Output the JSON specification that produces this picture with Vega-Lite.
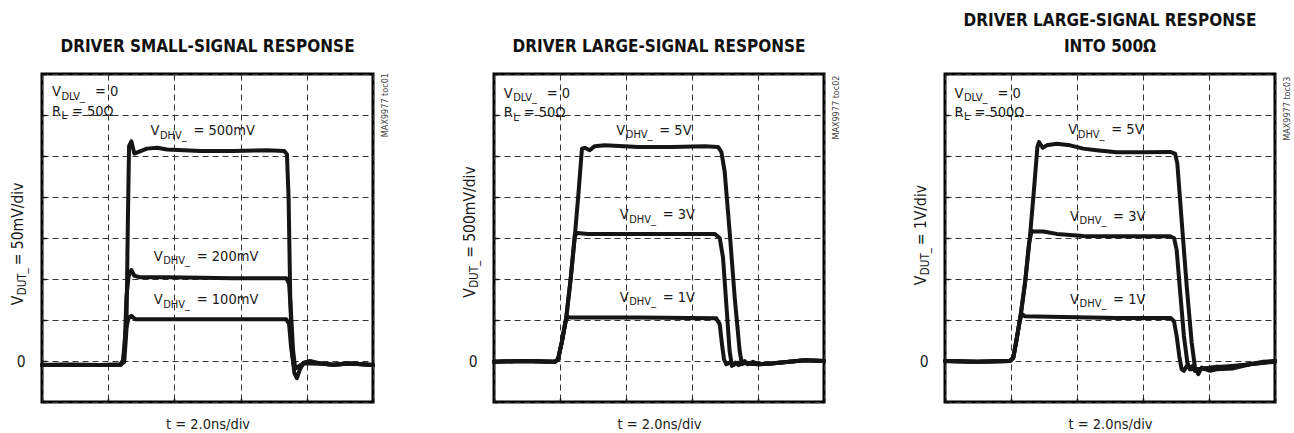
{
  "$schema": "https://vega.github.io/schema/vega-lite/v6.json",
  "background": "white",
  "padding": {"left": 9, "top": 10, "right": 0, "bottom": 0},
  "bounds": "flush",
  "spacing": 121,
  "datasets": {
    "traces": [
      {"panel":1,"series":"500mV","t":0,"v":-5},{"panel":1,"series":"500mV","t":1.5,"v":-4.5},{"panel":1,"series":"500mV","t":3.5,"v":-5},{"panel":1,"series":"500mV","t":4.73,"v":-4.5},{"panel":1,"series":"500mV","t":4.97,"v":-1.2},{"panel":1,"series":"500mV","t":5.1,"v":37},{"panel":1,"series":"500mV","t":5.18,"v":159},{"panel":1,"series":"500mV","t":5.26,"v":262},{"panel":1,"series":"500mV","t":5.4,"v":268},{"panel":1,"series":"500mV","t":5.58,"v":253},{"panel":1,"series":"500mV","t":5.84,"v":255},{"panel":1,"series":"500mV","t":6.34,"v":259},{"panel":1,"series":"500mV","t":6.95,"v":260},{"panel":1,"series":"500mV","t":7.55,"v":258},{"panel":1,"series":"500mV","t":9.57,"v":256},{"panel":1,"series":"500mV","t":11.58,"v":256},{"panel":1,"series":"500mV","t":13.6,"v":257},{"panel":1,"series":"500mV","t":14.64,"v":256},{"panel":1,"series":"500mV","t":14.8,"v":252},{"panel":1,"series":"500mV","t":14.9,"v":199},{"panel":1,"series":"500mV","t":15.0,"v":78},{"panel":1,"series":"500mV","t":15.1,"v":13},{"panel":1,"series":"500mV","t":15.25,"v":-15},{"panel":1,"series":"500mV","t":15.4,"v":-21},{"panel":1,"series":"500mV","t":15.57,"v":-11},{"panel":1,"series":"500mV","t":15.81,"v":-2},{"panel":1,"series":"500mV","t":16.2,"v":0},{"panel":1,"series":"500mV","t":16.8,"v":-3},{"panel":1,"series":"500mV","t":17.6,"v":-4.5},{"panel":1,"series":"500mV","t":18.6,"v":-3},{"panel":1,"series":"500mV","t":20,"v":-5},
      {"panel":1,"series":"200mV","t":0,"v":-5},{"panel":1,"series":"200mV","t":1.5,"v":-4.5},{"panel":1,"series":"200mV","t":3.5,"v":-5},{"panel":1,"series":"200mV","t":4.78,"v":-4.5},{"panel":1,"series":"200mV","t":4.9,"v":-1},{"panel":1,"series":"200mV","t":5.0,"v":17},{"panel":1,"series":"200mV","t":5.1,"v":78},{"panel":1,"series":"200mV","t":5.24,"v":104},{"panel":1,"series":"200mV","t":5.4,"v":111},{"panel":1,"series":"200mV","t":5.58,"v":104},{"panel":1,"series":"200mV","t":5.94,"v":102},{"panel":1,"series":"200mV","t":7.55,"v":102},{"panel":1,"series":"200mV","t":11.58,"v":101},{"panel":1,"series":"200mV","t":14.76,"v":101},{"panel":1,"series":"200mV","t":14.93,"v":94},{"panel":1,"series":"200mV","t":15.05,"v":57},{"panel":1,"series":"200mV","t":15.17,"v":13},{"panel":1,"series":"200mV","t":15.3,"v":-9},{"panel":1,"series":"200mV","t":15.5,"v":-7},{"panel":1,"series":"200mV","t":15.9,"v":-2},{"panel":1,"series":"200mV","t":16.8,"v":-3},{"panel":1,"series":"200mV","t":17.6,"v":-4.5},{"panel":1,"series":"200mV","t":18.6,"v":-3},{"panel":1,"series":"200mV","t":20,"v":-5},
      {"panel":1,"series":"100mV","t":0,"v":-5},{"panel":1,"series":"100mV","t":1.5,"v":-4.5},{"panel":1,"series":"100mV","t":3.5,"v":-5},{"panel":1,"series":"100mV","t":4.73,"v":-4},{"panel":1,"series":"100mV","t":4.9,"v":1},{"panel":1,"series":"100mV","t":5.05,"v":37},{"panel":1,"series":"100mV","t":5.24,"v":53},{"panel":1,"series":"100mV","t":5.4,"v":55},{"panel":1,"series":"100mV","t":5.64,"v":51},{"panel":1,"series":"100mV","t":7.55,"v":51},{"panel":1,"series":"100mV","t":14.76,"v":51},{"panel":1,"series":"100mV","t":14.93,"v":45},{"panel":1,"series":"100mV","t":15.05,"v":17},{"panel":1,"series":"100mV","t":15.2,"v":-5},{"panel":1,"series":"100mV","t":15.4,"v":-8},{"panel":1,"series":"100mV","t":15.8,"v":-3},{"panel":1,"series":"100mV","t":16.8,"v":-3},{"panel":1,"series":"100mV","t":17.6,"v":-4.5},{"panel":1,"series":"100mV","t":18.6,"v":-3},{"panel":1,"series":"100mV","t":20,"v":-5},
      {"panel":2,"series":"5V","t":0,"v":-0.01},{"panel":2,"series":"5V","t":1.66,"v":0},{"panel":2,"series":"5V","t":3.68,"v":-0.01},{"panel":2,"series":"5V","t":3.88,"v":0.02},{"panel":2,"series":"5V","t":4.12,"v":0.24},{"panel":2,"series":"5V","t":4.38,"v":0.53},{"panel":2,"series":"5V","t":4.65,"v":1.01},{"panel":2,"series":"5V","t":4.89,"v":1.5},{"panel":2,"series":"5V","t":5.13,"v":2.07},{"panel":2,"series":"5V","t":5.33,"v":2.59},{"panel":2,"series":"5V","t":5.5,"v":2.6},{"panel":2,"series":"5V","t":5.8,"v":2.57},{"panel":2,"series":"5V","t":6.1,"v":2.62},{"panel":2,"series":"5V","t":6.71,"v":2.63},{"panel":2,"series":"5V","t":8.73,"v":2.61},{"panel":2,"series":"5V","t":10.75,"v":2.61},{"panel":2,"series":"5V","t":12.77,"v":2.62},{"panel":2,"series":"5V","t":13.58,"v":2.61},{"panel":2,"series":"5V","t":13.78,"v":2.55},{"panel":2,"series":"5V","t":13.98,"v":2.31},{"panel":2,"series":"5V","t":14.28,"v":1.58},{"panel":2,"series":"5V","t":14.59,"v":0.77},{"panel":2,"series":"5V","t":14.89,"v":0.12},{"panel":2,"series":"5V","t":15.03,"v":-0.04},{"panel":2,"series":"5V","t":15.19,"v":0},{"panel":2,"series":"5V","t":15.39,"v":-0.04},{"panel":2,"series":"5V","t":15.7,"v":-0.01},{"panel":2,"series":"5V","t":16.0,"v":-0.04},{"panel":2,"series":"5V","t":16.8,"v":-0.03},{"panel":2,"series":"5V","t":18.83,"v":0.01},{"panel":2,"series":"5V","t":20,"v":0},
      {"panel":2,"series":"3V","t":0,"v":-0.01},{"panel":2,"series":"3V","t":1.66,"v":0},{"panel":2,"series":"3V","t":3.68,"v":-0.01},{"panel":2,"series":"3V","t":3.88,"v":0.02},{"panel":2,"series":"3V","t":4.12,"v":0.24},{"panel":2,"series":"3V","t":4.38,"v":0.53},{"panel":2,"series":"3V","t":4.65,"v":1.01},{"panel":2,"series":"3V","t":4.89,"v":1.52},{"panel":2,"series":"3V","t":5.05,"v":1.56},{"panel":2,"series":"3V","t":5.7,"v":1.55},{"panel":2,"series":"3V","t":8.73,"v":1.55},{"panel":2,"series":"3V","t":13.37,"v":1.55},{"panel":2,"series":"3V","t":13.68,"v":1.5},{"panel":2,"series":"3V","t":13.88,"v":1.26},{"panel":2,"series":"3V","t":14.08,"v":0.69},{"panel":2,"series":"3V","t":14.28,"v":0.12},{"panel":2,"series":"3V","t":14.42,"v":-0.06},{"panel":2,"series":"3V","t":14.63,"v":-0.02},{"panel":2,"series":"3V","t":14.83,"v":-0.05},{"panel":2,"series":"3V","t":15.09,"v":-0.02},{"panel":2,"series":"3V","t":16.0,"v":-0.04},{"panel":2,"series":"3V","t":16.8,"v":-0.03},{"panel":2,"series":"3V","t":18.83,"v":0.01},{"panel":2,"series":"3V","t":20,"v":0},
      {"panel":2,"series":"1V","t":0,"v":-0.01},{"panel":2,"series":"1V","t":1.66,"v":0},{"panel":2,"series":"1V","t":3.68,"v":-0.01},{"panel":2,"series":"1V","t":3.88,"v":0.02},{"panel":2,"series":"1V","t":4.12,"v":0.24},{"panel":2,"series":"1V","t":4.32,"v":0.47},{"panel":2,"series":"1V","t":4.48,"v":0.535},{"panel":2,"series":"1V","t":4.69,"v":0.53},{"panel":2,"series":"1V","t":8.73,"v":0.53},{"panel":2,"series":"1V","t":13.47,"v":0.52},{"panel":2,"series":"1V","t":13.68,"v":0.45},{"panel":2,"series":"1V","t":13.82,"v":0.2},{"panel":2,"series":"1V","t":13.94,"v":0.02},{"panel":2,"series":"1V","t":14.08,"v":-0.04},{"panel":2,"series":"1V","t":14.28,"v":-0.02},{"panel":2,"series":"1V","t":14.48,"v":-0.05},{"panel":2,"series":"1V","t":14.79,"v":-0.02},{"panel":2,"series":"1V","t":16.0,"v":-0.04},{"panel":2,"series":"1V","t":16.8,"v":-0.03},{"panel":2,"series":"1V","t":18.83,"v":0.01},{"panel":2,"series":"1V","t":20,"v":0},
      {"panel":3,"series":"5V","t":0,"v":0},{"panel":3,"series":"5V","t":1.92,"v":-0.02},{"panel":3,"series":"5V","t":3.94,"v":0},{"panel":3,"series":"5V","t":4.14,"v":0.08},{"panel":3,"series":"5V","t":4.34,"v":0.53},{"panel":3,"series":"5V","t":4.59,"v":1.13},{"panel":3,"series":"5V","t":4.85,"v":1.9},{"panel":3,"series":"5V","t":5.15,"v":3.04},{"panel":3,"series":"5V","t":5.39,"v":4.17},{"panel":3,"series":"5V","t":5.6,"v":5.22},{"panel":3,"series":"5V","t":5.7,"v":5.34},{"panel":3,"series":"5V","t":5.92,"v":5.2},{"panel":3,"series":"5V","t":6.16,"v":5.26},{"panel":3,"series":"5V","t":6.77,"v":5.3},{"panel":3,"series":"5V","t":7.58,"v":5.26},{"panel":3,"series":"5V","t":8.38,"v":5.18},{"panel":3,"series":"5V","t":9.19,"v":5.14},{"panel":3,"series":"5V","t":10.4,"v":5.09},{"panel":3,"series":"5V","t":12.02,"v":5.09},{"panel":3,"series":"5V","t":13.64,"v":5.1},{"panel":3,"series":"5V","t":13.94,"v":5.06},{"panel":3,"series":"5V","t":14.08,"v":4.82},{"panel":3,"series":"5V","t":14.34,"v":3.44},{"panel":3,"series":"5V","t":14.65,"v":1.82},{"panel":3,"series":"5V","t":14.95,"v":0.45},{"panel":3,"series":"5V","t":15.15,"v":-0.16},{"panel":3,"series":"5V","t":15.35,"v":-0.32},{"panel":3,"series":"5V","t":15.56,"v":-0.16},{"panel":3,"series":"5V","t":15.76,"v":-0.2},{"panel":3,"series":"5V","t":16.06,"v":-0.24},{"panel":3,"series":"5V","t":16.46,"v":-0.2},{"panel":3,"series":"5V","t":17.47,"v":-0.18},{"panel":3,"series":"5V","t":18.48,"v":-0.08},{"panel":3,"series":"5V","t":19.29,"v":-0.02},{"panel":3,"series":"5V","t":20,"v":0},
      {"panel":3,"series":"3V","t":0,"v":0},{"panel":3,"series":"3V","t":1.92,"v":-0.02},{"panel":3,"series":"3V","t":3.94,"v":0},{"panel":3,"series":"3V","t":4.14,"v":0.08},{"panel":3,"series":"3V","t":4.34,"v":0.53},{"panel":3,"series":"3V","t":4.59,"v":1.13},{"panel":3,"series":"3V","t":4.85,"v":1.9},{"panel":3,"series":"3V","t":5.09,"v":2.87},{"panel":3,"series":"3V","t":5.25,"v":3.17},{"panel":3,"series":"3V","t":5.39,"v":3.16},{"panel":3,"series":"3V","t":5.96,"v":3.16},{"panel":3,"series":"3V","t":6.77,"v":3.1},{"panel":3,"series":"3V","t":8.38,"v":3.05},{"panel":3,"series":"3V","t":10.4,"v":3.04},{"panel":3,"series":"3V","t":13.64,"v":3.04},{"panel":3,"series":"3V","t":13.88,"v":3.0},{"panel":3,"series":"3V","t":14.04,"v":2.71},{"panel":3,"series":"3V","t":14.24,"v":1.74},{"panel":3,"series":"3V","t":14.48,"v":0.61},{"panel":3,"series":"3V","t":14.69,"v":-0.04},{"panel":3,"series":"3V","t":14.85,"v":-0.2},{"panel":3,"series":"3V","t":15.01,"v":-0.12},{"panel":3,"series":"3V","t":15.15,"v":-0.24},{"panel":3,"series":"3V","t":15.45,"v":-0.2},{"panel":3,"series":"3V","t":16.46,"v":-0.14},{"panel":3,"series":"3V","t":17.47,"v":-0.14},{"panel":3,"series":"3V","t":18.48,"v":-0.08},{"panel":3,"series":"3V","t":20,"v":-0.02},
      {"panel":3,"series":"1V","t":0,"v":0},{"panel":3,"series":"1V","t":1.92,"v":-0.02},{"panel":3,"series":"1V","t":3.94,"v":0},{"panel":3,"series":"1V","t":4.14,"v":0.08},{"panel":3,"series":"1V","t":4.34,"v":0.53},{"panel":3,"series":"1V","t":4.51,"v":0.93},{"panel":3,"series":"1V","t":4.65,"v":1.15},{"panel":3,"series":"1V","t":4.85,"v":1.09},{"panel":3,"series":"1V","t":6.36,"v":1.08},{"panel":3,"series":"1V","t":10.4,"v":1.05},{"panel":3,"series":"1V","t":13.68,"v":1.05},{"panel":3,"series":"1V","t":13.88,"v":0.97},{"panel":3,"series":"1V","t":14.04,"v":0.61},{"panel":3,"series":"1V","t":14.2,"v":0.12},{"panel":3,"series":"1V","t":14.34,"v":-0.2},{"panel":3,"series":"1V","t":14.48,"v":-0.24},{"panel":3,"series":"1V","t":14.65,"v":-0.12},{"panel":3,"series":"1V","t":14.85,"v":-0.2},{"panel":3,"series":"1V","t":15.45,"v":-0.19},{"panel":3,"series":"1V","t":16.46,"v":-0.16},{"panel":3,"series":"1V","t":18.48,"v":-0.08},{"panel":3,"series":"1V","t":20,"v":0}
    ],
    "labels": [
      {"panel":1,"t":0.6,"v":328,"m":"V","s":"DLV_","r":"= 0"},
      {"panel":1,"t":0.6,"v":304,"m":"R","s":"L","r":"= 50Ω"},
      {"panel":1,"t":6.55,"v":280,"m":"V","s":"DHV_","r":"= 500mV"},
      {"panel":1,"t":6.75,"v":127,"m":"V","s":"DHV_","r":"= 200mV"},
      {"panel":1,"t":6.75,"v":74,"m":"V","s":"DHV_","r":"= 100mV"},
      {"panel":2,"t":0.59,"v":3.26,"m":"V","s":"DLV_","r":"= 0"},
      {"panel":2,"t":0.59,"v":3.02,"m":"R","s":"L","r":"= 50Ω"},
      {"panel":2,"t":7.41,"v":2.81,"m":"V","s":"DHV_","r":"= 5V"},
      {"panel":2,"t":7.62,"v":1.78,"m":"V","s":"DHV_","r":"= 3V"},
      {"panel":2,"t":7.62,"v":0.77,"m":"V","s":"DHV_","r":"= 1V"},
      {"panel":3,"t":0.57,"v":6.52,"m":"V","s":"DLV_","r":"= 0"},
      {"panel":3,"t":0.57,"v":6.05,"m":"R","s":"L","r":"= 500Ω"},
      {"panel":3,"t":7.47,"v":5.63,"m":"V","s":"DHV_","r":"= 5V"},
      {"panel":3,"t":7.58,"v":3.52,"m":"V","s":"DHV_","r":"= 3V"},
      {"panel":3,"t":7.58,"v":1.5,"m":"V","s":"DHV_","r":"= 1V"}
    ],
    "ytitle": [
      {"panel":1,"v":68,"m":"V","s":"DUT_","r":"= 50mV/div"},
      {"panel":2,"v":0.77,"m":"V","s":"DUT_","r":"= 500mV/div"},
      {"panel":3,"v":1.85,"m":"V","s":"DUT_","r":"= 1V/div"}
    ],
    "tags": [
      {"panel":1,"v":273,"text":"MAX9977 toc01"},
      {"panel":2,"v":2.7,"text":"MAX9977 toc02"},
      {"panel":3,"v":5.37,"text":"MAX9977 toc03"}
    ]
  },
  "hconcat": [
    {
      "width": 331, "height": 328,
      "title": {"text": "DRIVER SMALL-SIGNAL RESPONSE"},
      "layer": [
        {"data": {"name": "traces"}, "transform": [{"filter": "datum.panel == 1"}],
         "mark": {"type": "line", "color": "#151515", "strokeWidth": 4, "strokeJoin": "round", "strokeCap": "round"},
         "encoding": {
           "x": {"field": "t", "type": "quantitative", "scale": {"domain": [0, 20], "nice": false}, "axis": {"values": [0,2,4,6,8,10,12,14,16,18,20], "labels": false, "title": "t = 2.0ns/div"}},
           "y": {"field": "v", "type": "quantitative", "scale": {"domain": [-50, 350], "nice": false, "zero": false}, "axis": {"values": [-50,0,50,100,150,200,250,300,350], "labelExpr": "datum.value == 0 ? '0' : ''", "title": null}},
           "detail": {"field": "series", "type": "nominal"}}},
        {"data": {"name": "labels"}, "transform": [{"filter": "datum.panel == 1"}],
         "mark": {"type": "text", "align": "left", "baseline": "middle", "fontSize": 14.5},
         "encoding": {"x": {"field": "t", "type": "quantitative"}, "y": {"field": "v", "type": "quantitative"}, "text": {"field": "m"}}},
        {"data": {"name": "labels"}, "transform": [{"filter": "datum.panel == 1"}],
         "mark": {"type": "text", "align": "left", "baseline": "middle", "fontSize": 11, "dx": 9.5, "dy": 4.5},
         "encoding": {"x": {"field": "t", "type": "quantitative"}, "y": {"field": "v", "type": "quantitative"}, "text": {"field": "s"}}},
        {"data": {"name": "labels"}, "transform": [{"filter": "datum.panel == 1 && length(datum.s) > 1"}],
         "mark": {"type": "text", "align": "left", "baseline": "middle", "fontSize": 14.5, "dx": 43},
         "encoding": {"x": {"field": "t", "type": "quantitative"}, "y": {"field": "v", "type": "quantitative"}, "text": {"field": "r"}}},
        {"data": {"name": "labels"}, "transform": [{"filter": "datum.panel == 1 && length(datum.s) == 1"}],
         "mark": {"type": "text", "align": "left", "baseline": "middle", "fontSize": 14.5, "dx": 20},
         "encoding": {"x": {"field": "t", "type": "quantitative"}, "y": {"field": "v", "type": "quantitative"}, "text": {"field": "r"}}},
        {"data": {"name": "ytitle"}, "transform": [{"filter": "datum.panel == 1"}],
         "mark": {"type": "text", "align": "left", "baseline": "middle", "fontSize": 15.5, "angle": 270, "dy": -24},
         "encoding": {"x": {"datum": 0, "type": "quantitative"}, "y": {"field": "v", "type": "quantitative"}, "text": {"field": "m"}}},
        {"data": {"name": "ytitle"}, "transform": [{"filter": "datum.panel == 1"}],
         "mark": {"type": "text", "align": "left", "baseline": "middle", "fontSize": 11.5, "angle": 270, "dx": 10, "dy": -19.5},
         "encoding": {"x": {"datum": 0, "type": "quantitative"}, "y": {"field": "v", "type": "quantitative"}, "text": {"field": "s"}}},
        {"data": {"name": "ytitle"}, "transform": [{"filter": "datum.panel == 1"}],
         "mark": {"type": "text", "align": "left", "baseline": "middle", "fontSize": 15.5, "angle": 270, "dx": 40, "dy": -24},
         "encoding": {"x": {"datum": 0, "type": "quantitative"}, "y": {"field": "v", "type": "quantitative"}, "text": {"field": "r"}}},
        {"data": {"name": "tags"}, "transform": [{"filter": "datum.panel == 1"}],
         "mark": {"type": "text", "align": "left", "baseline": "middle", "fontSize": 9, "angle": 270, "dy": 12, "color": "#444"},
         "encoding": {"x": {"datum": 20, "type": "quantitative"}, "y": {"field": "v", "type": "quantitative"}, "text": {"field": "text"}}}
      ]
    },
    {
      "width": 330, "height": 328,
      "title": {"text": "DRIVER LARGE-SIGNAL RESPONSE"},
      "layer": [
        {"data": {"name": "traces"}, "transform": [{"filter": "datum.panel == 2"}],
         "mark": {"type": "line", "color": "#151515", "strokeWidth": 4, "strokeJoin": "round", "strokeCap": "round"},
         "encoding": {
           "x": {"field": "t", "type": "quantitative", "scale": {"domain": [0, 20], "nice": false}, "axis": {"values": [0,2,4,6,8,10,12,14,16,18,20], "labels": false, "title": "t = 2.0ns/div"}},
           "y": {"field": "v", "type": "quantitative", "scale": {"domain": [-0.5, 3.5], "nice": false, "zero": false}, "axis": {"values": [-0.5,0,0.5,1,1.5,2,2.5,3,3.5], "labelExpr": "datum.value == 0 ? '0' : ''", "title": null}},
           "detail": {"field": "series", "type": "nominal"}}},
        {"data": {"name": "labels"}, "transform": [{"filter": "datum.panel == 2"}],
         "mark": {"type": "text", "align": "left", "baseline": "middle", "fontSize": 14.5},
         "encoding": {"x": {"field": "t", "type": "quantitative"}, "y": {"field": "v", "type": "quantitative"}, "text": {"field": "m"}}},
        {"data": {"name": "labels"}, "transform": [{"filter": "datum.panel == 2"}],
         "mark": {"type": "text", "align": "left", "baseline": "middle", "fontSize": 11, "dx": 9.5, "dy": 4.5},
         "encoding": {"x": {"field": "t", "type": "quantitative"}, "y": {"field": "v", "type": "quantitative"}, "text": {"field": "s"}}},
        {"data": {"name": "labels"}, "transform": [{"filter": "datum.panel == 2 && length(datum.s) > 1"}],
         "mark": {"type": "text", "align": "left", "baseline": "middle", "fontSize": 14.5, "dx": 43},
         "encoding": {"x": {"field": "t", "type": "quantitative"}, "y": {"field": "v", "type": "quantitative"}, "text": {"field": "r"}}},
        {"data": {"name": "labels"}, "transform": [{"filter": "datum.panel == 2 && length(datum.s) == 1"}],
         "mark": {"type": "text", "align": "left", "baseline": "middle", "fontSize": 14.5, "dx": 20},
         "encoding": {"x": {"field": "t", "type": "quantitative"}, "y": {"field": "v", "type": "quantitative"}, "text": {"field": "r"}}},
        {"data": {"name": "ytitle"}, "transform": [{"filter": "datum.panel == 2"}],
         "mark": {"type": "text", "align": "left", "baseline": "middle", "fontSize": 15.5, "angle": 270, "dy": -24},
         "encoding": {"x": {"datum": 0, "type": "quantitative"}, "y": {"field": "v", "type": "quantitative"}, "text": {"field": "m"}}},
        {"data": {"name": "ytitle"}, "transform": [{"filter": "datum.panel == 2"}],
         "mark": {"type": "text", "align": "left", "baseline": "middle", "fontSize": 11.5, "angle": 270, "dx": 10, "dy": -19.5},
         "encoding": {"x": {"datum": 0, "type": "quantitative"}, "y": {"field": "v", "type": "quantitative"}, "text": {"field": "s"}}},
        {"data": {"name": "ytitle"}, "transform": [{"filter": "datum.panel == 2"}],
         "mark": {"type": "text", "align": "left", "baseline": "middle", "fontSize": 15.5, "angle": 270, "dx": 40, "dy": -24},
         "encoding": {"x": {"datum": 0, "type": "quantitative"}, "y": {"field": "v", "type": "quantitative"}, "text": {"field": "r"}}},
        {"data": {"name": "tags"}, "transform": [{"filter": "datum.panel == 2"}],
         "mark": {"type": "text", "align": "left", "baseline": "middle", "fontSize": 9, "angle": 270, "dy": 12, "color": "#444"},
         "encoding": {"x": {"datum": 20, "type": "quantitative"}, "y": {"field": "v", "type": "quantitative"}, "text": {"field": "text"}}}
      ]
    },
    {
      "width": 330, "height": 328,
      "title": {"text": ["DRIVER LARGE-SIGNAL RESPONSE", "INTO 500Ω"]},
      "layer": [
        {"data": {"name": "traces"}, "transform": [{"filter": "datum.panel == 3"}],
         "mark": {"type": "line", "color": "#151515", "strokeWidth": 4, "strokeJoin": "round", "strokeCap": "round"},
         "encoding": {
           "x": {"field": "t", "type": "quantitative", "scale": {"domain": [0, 20], "nice": false}, "axis": {"values": [0,2,4,6,8,10,12,14,16,18,20], "labels": false, "title": "t = 2.0ns/div"}},
           "y": {"field": "v", "type": "quantitative", "scale": {"domain": [-1, 7], "nice": false, "zero": false}, "axis": {"values": [-1,0,1,2,3,4,5,6,7], "labelExpr": "datum.value == 0 ? '0' : ''", "title": null}},
           "detail": {"field": "series", "type": "nominal"}}},
        {"data": {"name": "labels"}, "transform": [{"filter": "datum.panel == 3"}],
         "mark": {"type": "text", "align": "left", "baseline": "middle", "fontSize": 14.5},
         "encoding": {"x": {"field": "t", "type": "quantitative"}, "y": {"field": "v", "type": "quantitative"}, "text": {"field": "m"}}},
        {"data": {"name": "labels"}, "transform": [{"filter": "datum.panel == 3"}],
         "mark": {"type": "text", "align": "left", "baseline": "middle", "fontSize": 11, "dx": 9.5, "dy": 4.5},
         "encoding": {"x": {"field": "t", "type": "quantitative"}, "y": {"field": "v", "type": "quantitative"}, "text": {"field": "s"}}},
        {"data": {"name": "labels"}, "transform": [{"filter": "datum.panel == 3 && length(datum.s) > 1"}],
         "mark": {"type": "text", "align": "left", "baseline": "middle", "fontSize": 14.5, "dx": 43},
         "encoding": {"x": {"field": "t", "type": "quantitative"}, "y": {"field": "v", "type": "quantitative"}, "text": {"field": "r"}}},
        {"data": {"name": "labels"}, "transform": [{"filter": "datum.panel == 3 && length(datum.s) == 1"}],
         "mark": {"type": "text", "align": "left", "baseline": "middle", "fontSize": 14.5, "dx": 20},
         "encoding": {"x": {"field": "t", "type": "quantitative"}, "y": {"field": "v", "type": "quantitative"}, "text": {"field": "r"}}},
        {"data": {"name": "ytitle"}, "transform": [{"filter": "datum.panel == 3"}],
         "mark": {"type": "text", "align": "left", "baseline": "middle", "fontSize": 15.5, "angle": 270, "dy": -24},
         "encoding": {"x": {"datum": 0, "type": "quantitative"}, "y": {"field": "v", "type": "quantitative"}, "text": {"field": "m"}}},
        {"data": {"name": "ytitle"}, "transform": [{"filter": "datum.panel == 3"}],
         "mark": {"type": "text", "align": "left", "baseline": "middle", "fontSize": 11.5, "angle": 270, "dx": 10, "dy": -19.5},
         "encoding": {"x": {"datum": 0, "type": "quantitative"}, "y": {"field": "v", "type": "quantitative"}, "text": {"field": "s"}}},
        {"data": {"name": "ytitle"}, "transform": [{"filter": "datum.panel == 3"}],
         "mark": {"type": "text", "align": "left", "baseline": "middle", "fontSize": 15.5, "angle": 270, "dx": 40, "dy": -24},
         "encoding": {"x": {"datum": 0, "type": "quantitative"}, "y": {"field": "v", "type": "quantitative"}, "text": {"field": "r"}}},
        {"data": {"name": "tags"}, "transform": [{"filter": "datum.panel == 3"}],
         "mark": {"type": "text", "align": "left", "baseline": "middle", "fontSize": 9, "angle": 270, "dy": 12, "color": "#444"},
         "encoding": {"x": {"datum": 20, "type": "quantitative"}, "y": {"field": "v", "type": "quantitative"}, "text": {"field": "text"}}}
      ]
    }
  ],
  "config": {
    "view": {"stroke": "#000000", "strokeWidth": 3, "fill": "white"},
    "font": "DejaVu Sans Condensed, DejaVu Sans, sans-serif",
    "text": {"font": "DejaVu Sans Condensed, DejaVu Sans, sans-serif", "color": "#1a1a1a"},
    "title": {"font": "DejaVu Sans Condensed, DejaVu Sans, sans-serif", "fontSize": 17, "fontWeight": "bold", "color": "#111111", "anchor": "middle", "frame": "group", "offset": 17, "lineHeight": 26},
    "axis": {
      "domain": false, "grid": true, "gridColor": "#333333", "gridDash": [6, 4], "gridWidth": 1,
      "ticks": true, "tickColor": "#111111", "tickSize": -4, "tickWidth": 1.5,
      "labelFont": "DejaVu Sans Condensed, DejaVu Sans, sans-serif", "labelFontSize": 15.5, "labelColor": "#222222", "labelPadding": 21,
      "titleFont": "DejaVu Sans Condensed, DejaVu Sans, sans-serif", "titleFontSize": 14.5, "titleFontWeight": "normal", "titleColor": "#222222", "titlePadding": 15
    }
  }
}
